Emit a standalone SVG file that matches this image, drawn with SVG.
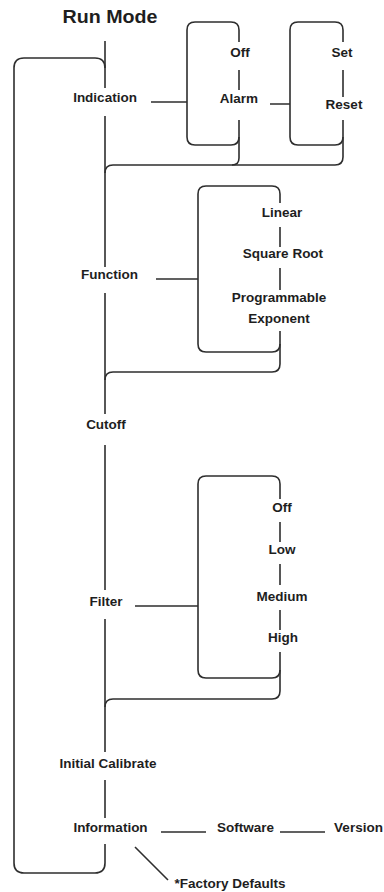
<svg xmlns="http://www.w3.org/2000/svg" width="384" height="892" viewBox="0 0 384 892">
<style>
text{font-family:"Liberation Sans",Arial,sans-serif;font-weight:bold;font-size:13.5px;fill:#1e1e1e;text-anchor:middle}
.title{font-size:18px}
.ln{fill:none;stroke:#2e2e2e;stroke-width:1.6;stroke-linecap:butt}
</style>
<rect width="384" height="892" fill="#ffffff"/>
<g id="connectors">
<path class="ln" d="M105,41 V88 M105,116 V267 M105,293 V414 M105,445 V590 M105,619 V752 M105,780 V818"/>
<path class="ln" d="M105,68 Q105,58 95,58 H24 Q14,58 14,68 V863 Q14,873 24,873 H95 Q105,873 105,863 V844"/>
<path class="ln" d="M151,102 H187 M270,104 H290 M156,279 H198 M135,606 H198 M161,832 H206 M280,832 H325 M135,847 L168,880"/>
<path class="ln" d="M239,42 V30 Q239,22 231,22 H195 Q187,22 187,30 V137 Q187,145 195,145 H231 Q239,145 239,137"/>
<path class="ln" d="M239,70 V90 M239,120 V158 Q239,165 232,165"/>
<path class="ln" d="M343,42 V30 Q343,22 335,22 H298 Q290,22 290,30 V137 Q290,145 298,145 H335 Q343,145 343,137"/>
<path class="ln" d="M343,70 V97 M343,120 V157 Q343,165 335,165 H113 Q105,165 105,173"/>
<path class="ln" d="M280,203 V194 Q280,186 272,186 H206 Q198,186 198,194 V344 Q198,352 206,352 H272 Q280,352 280,344"/>
<path class="ln" d="M280,227 V247 M280,268 V290 M280,331 V364 Q280,372 272,372 H113 Q105,372 105,380"/>
<path class="ln" d="M280,499 V484 Q280,476 272,476 H206 Q198,476 198,484 V670 Q198,678 206,678 H272 Q280,678 280,670"/>
<path class="ln" d="M280,522 V542 M280,564 V585 M280,610 V630 M280,652 V691 Q280,699 272,699 H113 Q105,699 105,707"/>
</g>
<g id="run-mode"><text class="title" x="110" y="23" textLength="95" lengthAdjust="spacingAndGlyphs">Run Mode</text></g>
<g id="indication"><text x="105" y="102">Indication</text></g>
<g id="alarm-off"><text x="240" y="57">Off</text></g>
<g id="alarm"><text x="239" y="103">Alarm</text></g>
<g id="set"><text x="342" y="57">Set</text></g>
<g id="reset"><text x="344" y="109">Reset</text></g>
<g id="function"><text x="109.5" y="279">Function</text></g>
<g id="linear"><text x="282" y="217">Linear</text></g>
<g id="square-root"><text x="283" y="258">Square Root</text></g>
<g id="programmable-exponent"><text x="279" y="302">Programmable</text><text x="279" y="323">Exponent</text></g>
<g id="cutoff"><text x="106" y="429">Cutoff</text></g>
<g id="filter"><text x="106" y="606">Filter</text></g>
<g id="filter-off"><text x="282" y="512">Off</text></g>
<g id="low"><text x="282" y="554">Low</text></g>
<g id="medium"><text x="282" y="601">Medium</text></g>
<g id="high"><text x="283" y="642">High</text></g>
<g id="initial-calibrate"><text x="108" y="768">Initial Calibrate</text></g>
<g id="information"><text x="110.5" y="832">Information</text></g>
<g id="software"><text x="245.5" y="832">Software</text></g>
<g id="version"><text x="358.5" y="832">Version</text></g>
<g id="factory-defaults"><text x="230" y="888">*Factory Defaults</text></g>
</svg>
